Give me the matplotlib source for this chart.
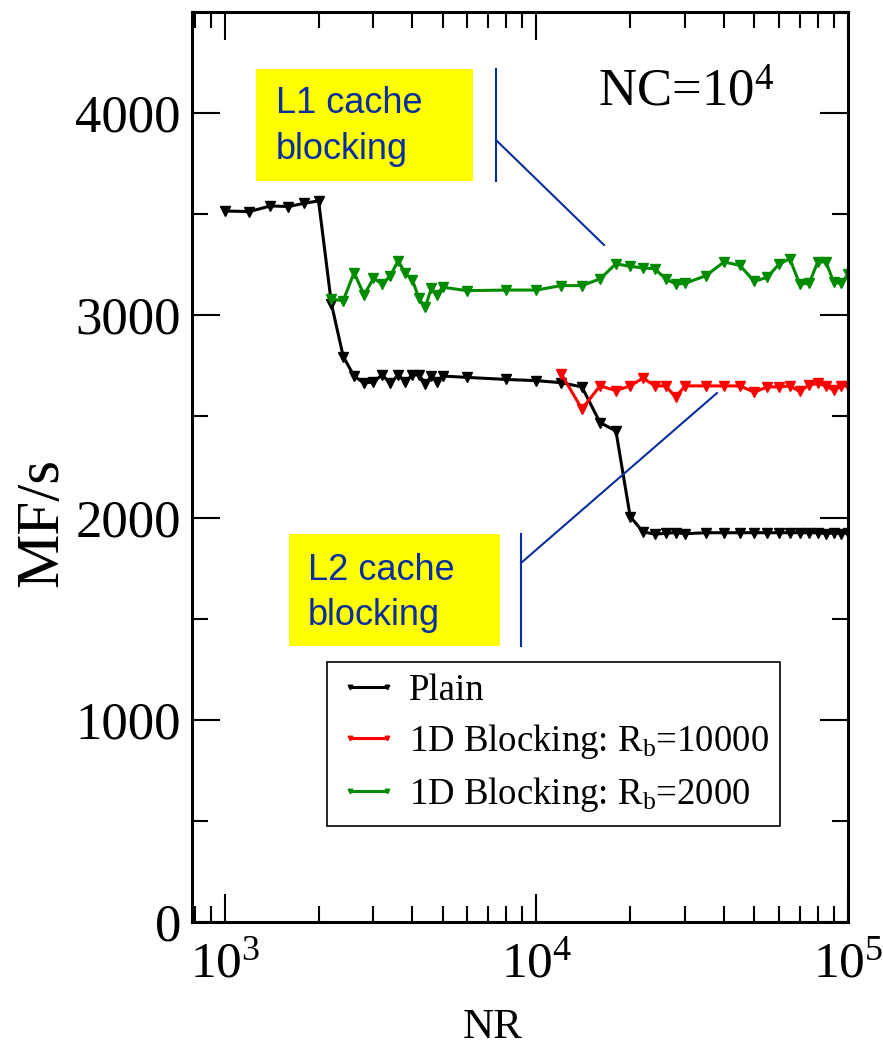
import numpy
import matplotlib
matplotlib.use("Agg")
import matplotlib.pyplot as plt
from matplotlib.lines import Line2D
from matplotlib.patches import Rectangle
from matplotlib.ticker import MultipleLocator, LogLocator

W, H = 883, 1054

# --- data ---
nr_plain = [1000, 1200, 1400, 1600, 1800, 2000, 2200, 2400, 2600, 2800, 3000,
            3200, 3400, 3600, 3800, 4000, 4200, 4400, 4600, 4800, 5000, 6000,
            8000, 10000, 12000, 14000, 16000, 18000, 20000, 22000, 24000, 26000,
            28000, 30000, 35000, 40000, 45000, 50000, 55000, 60000, 65000, 70000,
            75000, 80000, 85000, 90000, 95000, 100000]
mf_plain = [3516, 3513, 3541, 3538, 3554, 3566, 3056, 2796, 2700, 2664, 2672,
            2705, 2664, 2705, 2672, 2705, 2705, 2661, 2700, 2672, 2700, 2693,
            2683, 2677, 2667, 2646, 2470, 2428, 2005, 1929, 1918, 1922, 1926,
            1920, 1925, 1925, 1925, 1925, 1925, 1925, 1925, 1925, 1925, 1925,
            1920, 1925, 1920, 1925]

nr_rb10000 = [12000, 14000, 16000, 18000, 20000, 22000, 24000, 26000, 28000,
              30000, 35000, 40000, 45000, 50000, 55000, 60000, 65000, 70000,
              75000, 80000, 85000, 90000, 95000, 100000]
mf_rb10000 = [2712, 2537, 2651, 2628, 2651, 2690, 2651, 2651, 2595, 2651, 2651,
              2651, 2651, 2620, 2646, 2646, 2651, 2624, 2655, 2663, 2651, 2629,
              2651, 2651]

nr_rb2000 = [2200, 2400, 2600, 2800, 3000, 3200, 3400, 3600, 3800, 4000, 4200,
             4400, 4600, 4800, 5000, 6000, 8000, 10000, 12000, 14000, 16000,
             18000, 20000, 22000, 24000, 26000, 28000, 30000, 35000, 40000,
             45000, 50000, 55000, 60000, 65000, 70000, 75000, 80000, 85000,
             90000, 95000, 100000]
mf_rb2000 = [3079, 3073, 3211, 3101, 3183, 3155, 3195, 3270, 3208, 3175, 3084,
             3040, 3134, 3101, 3139, 3122, 3125, 3125, 3147, 3147, 3180, 3255,
             3242, 3235, 3230, 3180, 3155, 3158, 3196, 3264, 3247, 3168, 3188,
             3252, 3280, 3155, 3158, 3264, 3264, 3163, 3158, 3202]

labels = ["Plain", r"1D Blocking: R$_{\mathdefault{b}}$=10000",
          r"1D Blocking: R$_{\mathdefault{b}}$=2000"]

plt.rcParams['font.family'] = ['Liberation Serif', 'DejaVu Serif']
plt.rcParams['mathtext.fontset'] = 'custom'
plt.rcParams['mathtext.rm'] = 'Liberation Serif'
plt.rcParams['mathtext.it'] = 'Liberation Serif:italic'

NAVY = '#0a2ea0'


def fx(px):
    return px / W


def fy(py):
    return 1 - py / H


fig = plt.figure(figsize=(W / 100, H / 100), dpi=100)
ax = fig.add_axes([fx(192), fy(922), (848 - 192) / W, (922 - 12) / H])

ax.plot(nr_plain, mf_plain, color='black', lw=2.2, marker='v', ms=6.5, label=labels[0])
ax.plot(nr_rb10000, mf_rb10000, color='red', lw=2.2, marker='v', ms=6.5, label=labels[1])
ax.plot(nr_rb2000, mf_rb2000, color='#008b00', lw=2.2, marker='v', ms=6.5, label=labels[2])

ax.set_xscale('log')
ax.set_xlim(785, 1e5)
ax.set_ylim(0, 4500)
ax.yaxis.set_major_locator(MultipleLocator(1000))
ax.yaxis.set_minor_locator(MultipleLocator(500))
ax.xaxis.set_minor_locator(LogLocator(base=10, subs=numpy.arange(2, 10)))

for s in ax.spines.values():
    s.set_linewidth(2.2)
ax.tick_params(which='both', direction='in', top=True, right=True, width=1.5)
ax.tick_params(which='major', length=20)
ax.tick_params(which='minor', length=11.5)
ax.tick_params(axis='y', labelsize=38, pad=8)
ax.tick_params(axis='x', labelsize=37, pad=14)

ax.set_ylabel('MF/s', fontsize=44)
ax.yaxis.set_label_coords((70 - 192) / 656, (922 - 522) / 910)
ax.set_xlabel('NR', fontsize=31)
ax.xaxis.set_label_coords((493 - 192) / 656, (922 - 1008) / 910)

leg = ax.legend(loc='upper left', bbox_to_anchor=(fx(327), fy(662)),
                bbox_transform=fig.transFigure, borderaxespad=0, fontsize=26.5,
                numpoints=2, fancybox=False, framealpha=1, edgecolor='black',
                handlelength=1.6, handletextpad=0.3, labelspacing=0.38,
                borderpad=0.32, markerscale=0.5)
leg.get_frame().set_linewidth(1.2)

# annotations: yellow boxes with navy text and pointer lines
fig.add_artist(Rectangle((fx(256), fy(181)), (473 - 256) / W, (181 - 69) / H,
                         transform=fig.transFigure, facecolor='#ffff00', edgecolor='none'))
fig.text(fx(276), fy(113), 'L1 cache', family='Liberation Sans', fontsize=26, color=NAVY, va='baseline')
fig.text(fx(276), fy(159), 'blocking', family='Liberation Sans', fontsize=26, color=NAVY, va='baseline')
fig.add_artist(Line2D([fx(496), fx(496)], [fy(69), fy(181)], transform=fig.transFigure, color=NAVY, lw=1.5))
fig.add_artist(Line2D([fx(496), fx(604)], [fy(140), fy(245)], transform=fig.transFigure, color=NAVY, lw=1.5))

fig.add_artist(Rectangle((fx(289), fy(646)), (500 - 289) / W, (646 - 534) / H,
                         transform=fig.transFigure, facecolor='#ffff00', edgecolor='none'))
fig.text(fx(308), fy(580), 'L2 cache', family='Liberation Sans', fontsize=26, color=NAVY, va='baseline')
fig.text(fx(308), fy(625), 'blocking', family='Liberation Sans', fontsize=26, color=NAVY, va='baseline')
fig.add_artist(Line2D([fx(521), fx(521)], [fy(534), fy(646)], transform=fig.transFigure, color=NAVY, lw=1.5))
fig.add_artist(Line2D([fx(521), fx(717)], [fy(563), fy(393)], transform=fig.transFigure, color=NAVY, lw=1.5))

fig.text(fx(598), fy(106), r'NC=10$^{\mathdefault{4}}$', fontsize=38, va='baseline')

fig.savefig('out.png', dpi=100)
